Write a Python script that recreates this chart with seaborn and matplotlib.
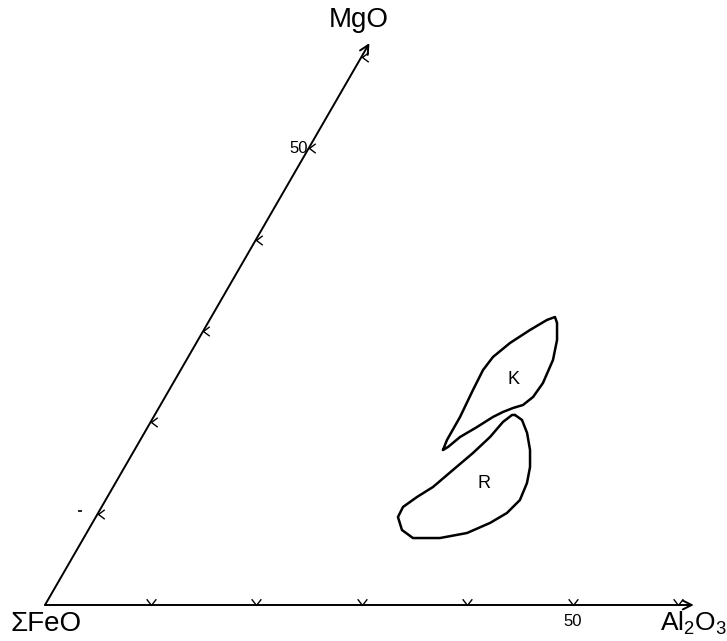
import numpy as np
import pandas as pd
import matplotlib
matplotlib.use("Agg")
import matplotlib.pyplot as plt
import seaborn as sns

# compositions (wt%): Al2O3 and MgO, remainder is sum FeO
tick_values = [10, 20, 30, 40, 50, 60]
labelled_tick = 50

k_al2o3 = [29.24, 29.07, 29.05, 28.80, 28.66, 28.89, 29.74, 30.92, 31.98, 32.58, 33.10,
           34.03, 34.74, 35.05, 34.88, 34.36, 33.58, 32.85, 32.17, 31.21, 30.15, 29.55]
k_mgo = [16.97, 18.06, 20.58, 23.53, 25.72, 27.15, 28.68, 30.10, 31.20, 31.52, 30.87,
         29.01, 26.82, 24.30, 22.77, 21.89, 21.56, 21.13, 20.58, 19.48, 18.39, 17.29]

r_al2o3 = [34.15, 35.09, 36.28, 37.49, 38.42, 39.01, 39.27, 38.75, 37.69, 36.06, 33.77,
           31.21, 29.73, 28.64, 28.57, 29.35, 30.32, 31.28, 32.25, 32.99, 33.39, 33.87]
r_mgo = [20.80, 20.25, 18.83, 16.97, 15.11, 13.35, 11.49, 10.07, 8.98, 7.88, 7.33,
         7.33, 8.21, 9.63, 10.73, 11.82, 12.92, 14.78, 16.64, 18.39, 20.03, 20.80]

field_names = ["K", "R"]
label_al2o3 = [32.05, 34.93]
label_mgo = [24.63, 13.35]

axis_end = 61.5
H = np.sqrt(3) / 2


def tern(al, mg):
    al = np.asarray(al, dtype=float)
    mg = np.asarray(mg, dtype=float)
    return al + 0.5 * mg, H * mg


sns.set_style("white")
plt.rcParams["font.family"] = ["Liberation Sans", "DejaVu Sans"]
plt.rcParams["mathtext.default"] = "regular"
plt.rcParams["text.color"] = "black"

fig = plt.figure(figsize=(7.27, 6.41), dpi=100)
ax = fig.add_axes([0, 0, 1, 1])
ax.set_xlim(-45 / 10.55, (727 - 45) / 10.55)
ax.set_ylim(-36 / 10.55, 605 / 10.55)
ax.set_aspect("equal")
ax.axis("off")

# the two drawn sides of the triangle, with open arrowheads
for end in [tern(axis_end, 0), tern(0, axis_end)]:
    ax.annotate("", xy=end, xytext=(0, 0),
                arrowprops=dict(arrowstyle="->", lw=1.4, color="black",
                                shrinkA=0, shrinkB=0, mutation_scale=16))

# tick marks
tx, ty = tern(tick_values, np.zeros(len(tick_values)))
ax.plot(tx, ty, ls="none", marker=[(-1, 1.3), (0, 0), (1, 1.3)], ms=9,
        mfc="none", mec="black", mew=1.0)
mx, my = tern(np.zeros(len(tick_values)), tick_values)
ax.plot(mx, my, ls="none", marker=[(1.2, 0.9), (0, 0), (1.2, -0.9)], ms=9,
        mfc="none", mec="black", mew=1.0)

lx, ly = tern(labelled_tick, 0)
ax.text(lx, ly - 0.9, "50", fontsize=12, ha="center", va="top")
lx, ly = tern(0, labelled_tick)
ax.text(lx - 0.1, ly, "50", fontsize=12, ha="right", va="center")

# corner labels
fx, fy = tern(0, 0)
ax.text(fx + 0.1, fy - 0.6, "ΣFeO", fontsize=20, ha="center", va="top")
ex, ey = tern(axis_end, 0)
ax.text(ex - 3.2, ey - 0.5, r"Al$_2$O$_3$", fontsize=19, ha="left", va="top")
ex, ey = tern(0, axis_end)
ax.text(ex - 1.0, ey + 1.0, "MgO", fontsize=20, ha="center", va="bottom")

# stray dash on the original
sx, sy = tern(-1.83, 10.29)
ax.plot([sx], [sy], ls="none", marker="_", ms=3, mec="black", mew=1.2)

# fields K and R
for al, mg in [(k_al2o3, k_mgo), (r_al2o3, r_mgo)]:
    x, y = tern(al + al[:1], mg + mg[:1])
    df = pd.DataFrame({"x": x, "y": y})
    sns.lineplot(data=df, x="x", y="y", sort=False, estimator=None,
                 color="black", lw=1.8, ax=ax)

for name, al, mg in zip(field_names, label_al2o3, label_mgo):
    ax.text(*tern(al, mg), name, fontsize=13, ha="center", va="center")

fig.savefig("out.png", dpi=100)
